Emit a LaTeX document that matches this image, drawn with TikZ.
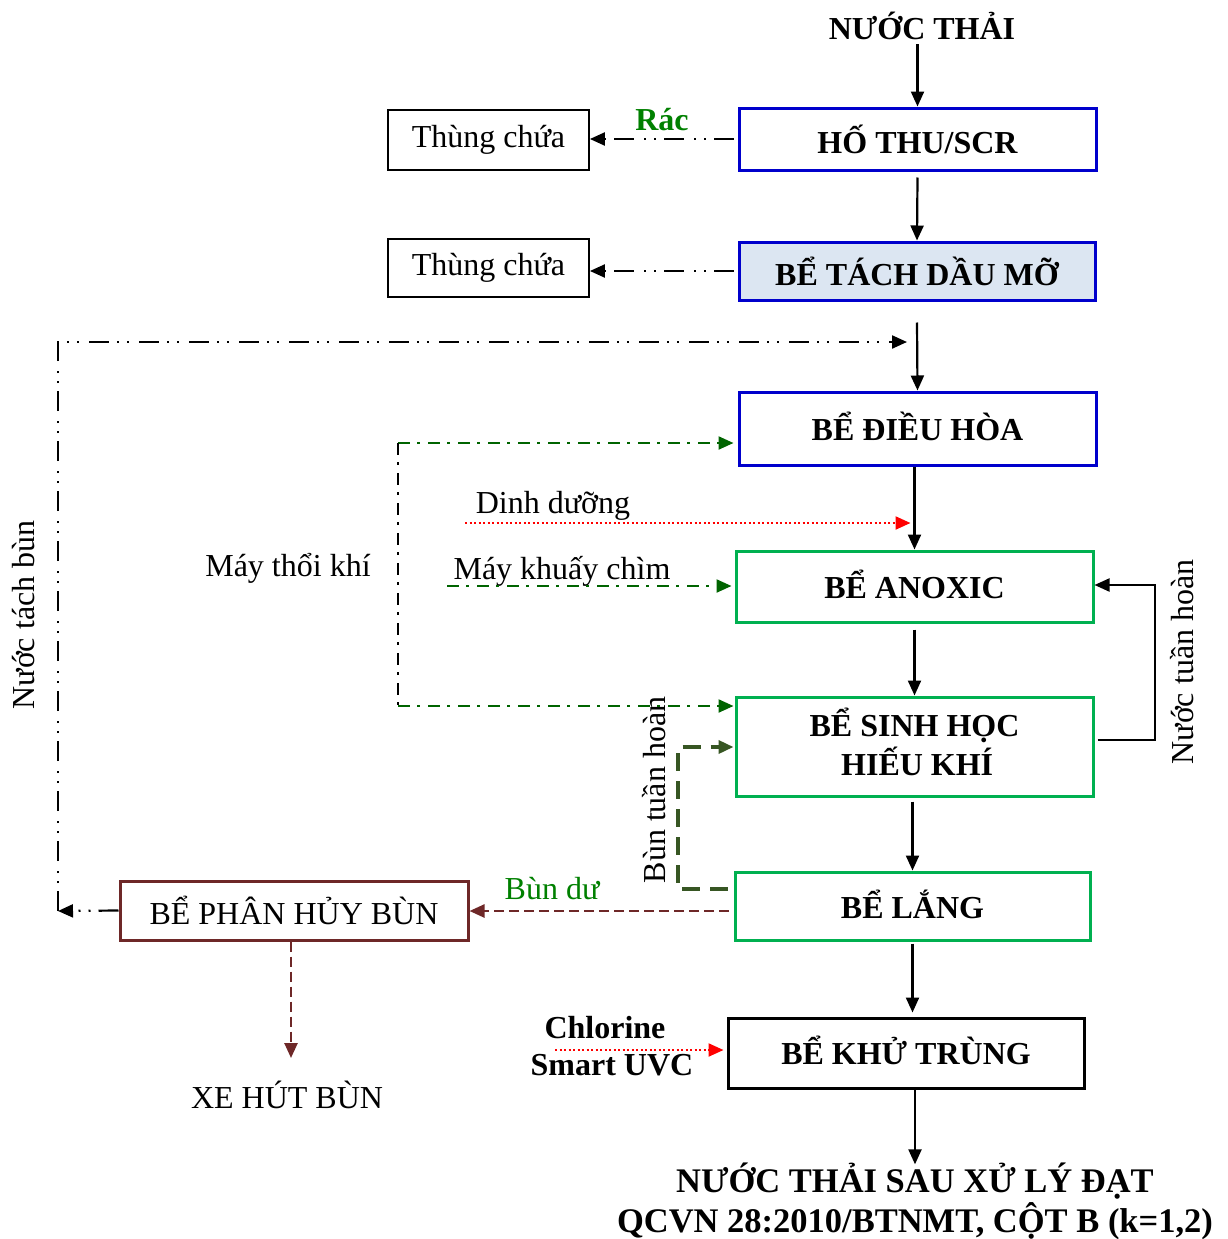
\documentclass[tikz,border=0pt]{standalone}
\usepackage{fontspec}
\setmainfont{Liberation Serif}
\usetikzlibrary{arrows.meta}
\newcommand\fsz{\fontsize{32}{37}\selectfont}
\newcommand\fszb{\fontsize{34.5}{40}\selectfont}
\definecolor{bbox}{RGB}{0,0,204}
\definecolor{lfill}{RGB}{220,230,242}
\definecolor{gbox}{RGB}{0,176,80}
\definecolor{dgreen}{RGB}{0,100,0}
\definecolor{rgreen}{RGB}{0,128,0}
\definecolor{olivec}{RGB}{55,86,35}
\definecolor{dred}{RGB}{110,40,40}
\tikzset{
  every node/.style={font=\fsz, inner sep=0pt},
  tip/.style={-{Triangle[length=15pt,width=13pt]}},
  stip/.style={-{Triangle[length=15pt,width=13pt]}},
  tank/.style={draw, line width=3pt, font=\fsz\bfseries, align=center},
  bin/.style={draw, line width=1.8pt},
  flow/.style={line width=2.2pt, tip},
  ddot/.style={line width=2.2pt, dash pattern=on 20pt off 8pt on 2pt off 8pt on 2pt off 10pt, stip},
  gdash/.style={draw=dgreen, line width=2.2pt, dash pattern=on 12pt off 7pt on 3pt off 8pt, -{Triangle[length=15pt,width=13pt]}},
  kdash/.style={line width=2.2pt, dash pattern=on 12pt off 7pt on 3pt off 8pt},
  rdot/.style={draw=red, line width=2.2pt, dash pattern=on 2pt off 2.5pt, -{Triangle[length=15pt,width=13pt]}},
  odash/.style={draw=olivec, line width=3.5pt, dash pattern=on 18pt off 10pt, -{Triangle[length=15pt,width=13pt]}},
  rdash/.style={draw=dred, line width=2.5pt, dash pattern=on 10pt off 5pt, -{Triangle[length=15pt,width=13pt]}},
}
\begin{document}
\begin{tikzpicture}[x=1pt,y=-1pt]
\useasboundingbox (0,0) rectangle (1227,1239);
% tanks
\node[tank, draw=bbox, minimum width=357pt, minimum height=62pt] (hothu) at (917.5,139) {HỐ THU/SCR};
\node[tank, draw=bbox, fill=lfill, minimum width=356pt, minimum height=58pt] (tach) at (917,271) {\raisebox{-3pt}{BỂ TÁCH DẦU MỠ}};
\node[tank, draw=bbox, minimum width=357pt, minimum height=73pt] (dieuhoa) at (917.5,428.5) {\raisebox{5pt}{BỂ ĐIỀU HÒA}};
\node[tank, draw=gbox, minimum width=357pt, minimum height=71pt] (anoxic) at (914.5,586.5) {\raisebox{4pt}{BỂ ANOXIC}};
\node[tank, draw=gbox, minimum width=357pt, minimum height=99pt] (sinhhoc) at (914.5,746.5) {\raisebox{11pt}{\fontsize{32}{35}\selectfont\begin{tabular}{@{}c@{}}BỂ SINH HỌC\\ \,HIẾU KHÍ\end{tabular}}};
\node[tank, draw=gbox, minimum width=355pt, minimum height=68pt] (lang) at (912.5,906) {\raisebox{3pt}{BỂ LẮNG}};
\node[tank, draw=black, minimum width=356pt, minimum height=70pt] (khutrung) at (906,1053) {\raisebox{5pt}{BỂ KHỬ TRÙNG}};
\node[draw=dred, line width=3pt, minimum width=348pt, minimum height=59pt] (phanhuy) at (294,910.5) {BỂ PHÂN HỦY BÙN};
\node[bin, minimum width=201pt, minimum height=60pt] (thung1) at (488.5,140) {Thùng chứa};
\node[bin, minimum width=201pt, minimum height=58pt] (thung2) at (488.5,268) {Thùng chứa};
% text nodes
\node[font=\fsz\bfseries] (vao) at (922,26) {NƯỚC THẢI};
\node[font=\fszb\bfseries, align=center] (ra) at (915,1201) {NƯỚC THẢI SAU XỬ LÝ ĐẠT\\ QCVN 28:2010/BTNMT, CỘT B (k=1,2)};
\node (xe) at (287,1095) {XE HÚT BÙN};
\node (thoi) at (288,568) {Máy thổi khí};
\node (dd) at (553,506) {Dinh dưỡng};
\node (khuay) at (562,571) {Máy khuấy chìm};
\node[font=\fsz\bfseries, text=rgreen] (rac) at (662,120) {Rác};
\node[text=rgreen] (bundu) at (552,889) {Bùn dư};
\node[font=\fsz\bfseries] (chl) at (605,1028) {Chlorine};
\node[font=\fsz\bfseries] (uvc) at (612,1065) {Smart UVC};
\node[rotate=90] (ntb) at (24,615) {Nước tách bùn};
\node[rotate=90] (nth) at (1182,662) {Nước tuần hoàn};
\node[rotate=90] (btb) at (654,790) {Bùn tuần hoàn};
% coordinates
\coordinate (c1) at (58,911);
\coordinate (c2) at (58,342);
\coordinate (c3) at (907,342);
\coordinate (t1) at (398,443);
\coordinate (t2) at (398,706);
\coordinate (d0) at (465,523);
\coordinate (k0) at (447,586);
\coordinate (r1) at (1155,740);
\coordinate (r2) at (1155,585);
\coordinate (b1) at (678,889);
\coordinate (b2) at (678,747);
\coordinate (bd) at (729,911);
\coordinate (x1) at (291,1058);
\coordinate (ch0) at (555,1050);
% main flow
\draw[flow] ([yshift=-4pt]hothu.north |- vao.south) -- (hothu.north);
\draw[flow] ([yshift=-6pt]hothu.south) -- (tach.north);
\draw[flow] ([yshift=-21pt]tach.south) -- (dieuhoa.north);
\draw[flow] (anoxic.north |- dieuhoa.south) -- (anoxic.north);
\draw[flow] ([yshift=-6pt]sinhhoc.north |- anoxic.south) -- (sinhhoc.north);
\draw[flow] ([yshift=-4pt]lang.north |- sinhhoc.south) -- (lang.north);
\draw[flow, shorten >=4pt] ([yshift=-2pt]lang.south) -- (lang.south |- khutrung.north);
\draw[flow] (ra.north |- khutrung.south) -- ([yshift=-2pt]ra.north);
% side streams
\draw[ddot] ([xshift=-4pt]hothu.west) -- (thung1.east |- hothu.west);
\draw[ddot] ([xshift=-4pt]tach.west) -- (thung2.east |- tach.west);
\draw[ddot] (phanhuy.west) -- (c1);
\draw[ddot] (c1) -- (c2) -- (c3);
\draw[gdash, shorten >=4pt] (t1) -- (t1 -| dieuhoa.west);
\draw[kdash] (t1) -- (t2);
\draw[gdash, shorten >=1pt] (t2) -- (t2 -| sinhhoc.west);
\draw[rdot, shorten >=4pt] (d0) -- (d0 -| anoxic.north);
\draw[gdash, shorten >=3pt] (k0) -- (k0 -| anoxic.west);
\draw[flow] ([xshift=3pt]r1 -| sinhhoc.east) -- (r1) -- (r2) -- (r2 -| anoxic.east);
\draw[odash, shorten <=6pt, shorten >=1pt] (b1 -| lang.west) -- (b1) -- (b2) -- (b2 -| sinhhoc.west);
\draw[rdash] (bd) -- (bd -| phanhuy.east);
\draw[rdash] (x1 |- phanhuy.south) -- (x1);
\draw[rdot, shorten >=3pt] (ch0) -- (ch0 -| khutrung.west);
\end{tikzpicture}
\end{document}
